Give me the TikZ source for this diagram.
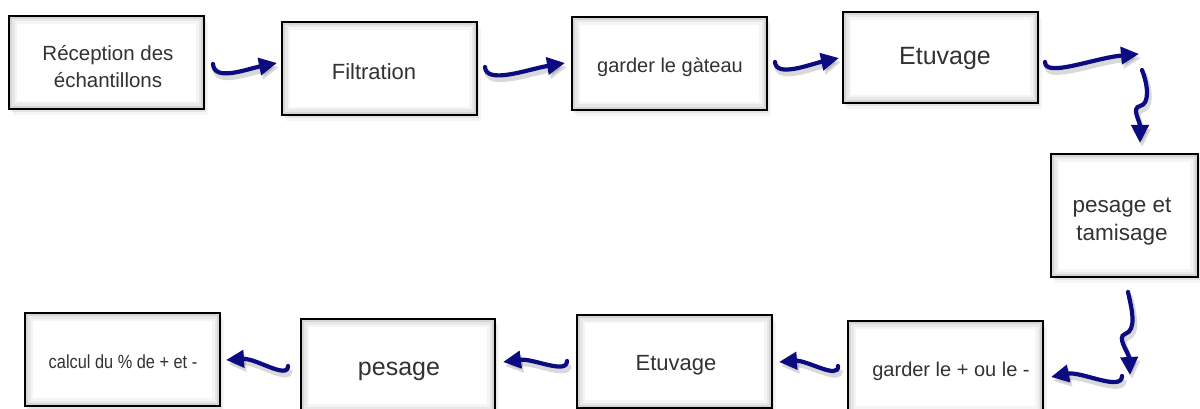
\documentclass[tikz,border=0pt]{standalone}
\usepackage{fontspec}
\setmainfont{Liberation Sans}
\usetikzlibrary{arrows.meta,shadows}
\definecolor{navyarrow}{RGB}{12,12,128}
\definecolor{txt}{RGB}{50,50,50}
\newcommand{\fsz}[2]{\fontsize{#1}{#2}\selectfont}
\begin{document}
\begin{tikzpicture}[x=1pt,y=-1pt,
  box/.style={draw=black, line width=1.8pt, fill=white, inner sep=0pt,
    drop shadow={shadow xshift=2pt, shadow yshift=-3pt, opacity=0.14},
    drop shadow={shadow xshift=4pt, shadow yshift=-6pt, opacity=0.08},
    path picture={
      \foreach \w/\o in {16/0.04, 11/0.05, 6/0.08}{
        \draw[black, opacity=\o, line width=\w pt]
          (path picture bounding box.south west) rectangle (path picture bounding box.north east);}
    }},
  lbl/.style={text=txt, align=center, inner sep=0pt},
  flow/.style={draw=navyarrow, line width=4.2pt, line cap=round,
    -{Triangle[length=18pt,width=17pt]},
    preaction={draw=black, opacity=0.15, line width=5.5pt,
      transform canvas={shift={(2pt,-4pt)}}, -{Triangle[length=18pt,width=17pt]}}}
]
\useasboundingbox (0,0) rectangle (1200,409);
\clip (0,0) rectangle (1200,409);
\fill[white] (0,0) rectangle (1200,409);

% boxes
\node[box, minimum width=195pt, minimum height=93pt] (b1) at (106.5,62.5) {};
\node[box, minimum width=195pt, minimum height=93pt] (b2) at (379.5,68.5) {};
\node[box, minimum width=195pt, minimum height=93pt] (b3) at (669.5,63.5) {};
\node[box, minimum width=195pt, minimum height=91pt] (b4) at (940.5,57.5) {};
\node[box, minimum width=147pt, minimum height=123pt] (b5) at (1124.5,215.5) {};
\node[box, minimum width=195pt, minimum height=93pt] (b6) at (945.5,367.5) {};
\node[box, minimum width=195pt, minimum height=93pt] (b7) at (674.5,361.5) {};
\node[box, minimum width=194pt, minimum height=93pt] (b8) at (398,365.5) {};
\node[box, minimum width=195pt, minimum height=93pt] (b9) at (122.5,359.5) {};

% texts
\node[lbl, font=\fsz{20.5}{27}] (t1) at (108,67) {Réception des\\échantillons};
\node[lbl, font=\fsz{22}{26}] (t2) at (374,72) {Filtration};
\node[lbl, font=\fsz{20}{26}] (t3) at (670,67.5) {garder le gàteau};
\node[lbl, font=\fsz{25}{30}] (t4) at (945,58) {Etuvage};
\node[lbl, font=\fsz{22.5}{28}] (t5) at (1122,222) {pesage et\\tamisage};
\node[lbl, font=\fsz{20}{26}] (t6) at (951,371) {garder le + ou le -};
\node[lbl, font=\fsz{22}{26}] (t7) at (676,365) {Etuvage};
\node[lbl, font=\fsz{25}{30}] (t8) at (399,371) {pesage};
\node[lbl, font={\fsz{19}{24}\addfontfeatures{FakeStretch=0.86}}] (t9) at (123,362) {calcul du \% de + et -};

% connector end points
\coordinate (s1) at (213,64);   \coordinate (e1) at (277,63);
\coordinate (s2) at (485,67);   \coordinate (e2) at (565,63);
\coordinate (s3) at (775,62);   \coordinate (e3) at (839,58);
\coordinate (s4) at (1045,62);  \coordinate (e4) at (1139,54);
\coordinate (s5) at (1142,70);  \coordinate (m5) at (1140,106); \coordinate (e5) at (1140,143);
\coordinate (s6) at (1128,292); \coordinate (m6) at (1125,334); \coordinate (e6) at (1130,375);
\coordinate (s7) at (1122,376); \coordinate (e7) at (1051,377);
\coordinate (s8) at (838,366);  \coordinate (e8) at (779,362);
\coordinate (s9) at (567,361);  \coordinate (e9) at (503,362);
\coordinate (s10) at (288,366); \coordinate (e10) at (226,360);

% connectors
\draw[flow] (s1) .. controls +(1,18) and +(-30,6) .. (e1);
\draw[flow] (s2) .. controls +(1,18) and +(-36,6) .. (e2);
\draw[flow] (s3) .. controls +(1,16) and +(-28,6) .. (e3);
\draw[flow] (s4) .. controls +(0,16) and +(-45,4) .. (e4);
\draw[flow] (s5) .. controls +(6,15) and +(10,-2) .. (m5)
               .. controls +(-9,2) and +(0,-22) .. (e5);
\draw[flow] (s6) .. controls +(4,18) and +(12,-4) .. (m6)
               .. controls +(-9,3) and +(-1,-22) .. (e6);
\draw[flow] (s7) .. controls +(0,16) and +(30,-6) .. (e7);
\draw[flow] (s8) .. controls +(1,14) and +(28,-2) .. (e8);
\draw[flow] (s9) .. controls +(0,14) and +(30,-4) .. (e9);
\draw[flow] (s10) .. controls +(0,14) and +(30,-2) .. (e10);
\end{tikzpicture}
\end{document}
